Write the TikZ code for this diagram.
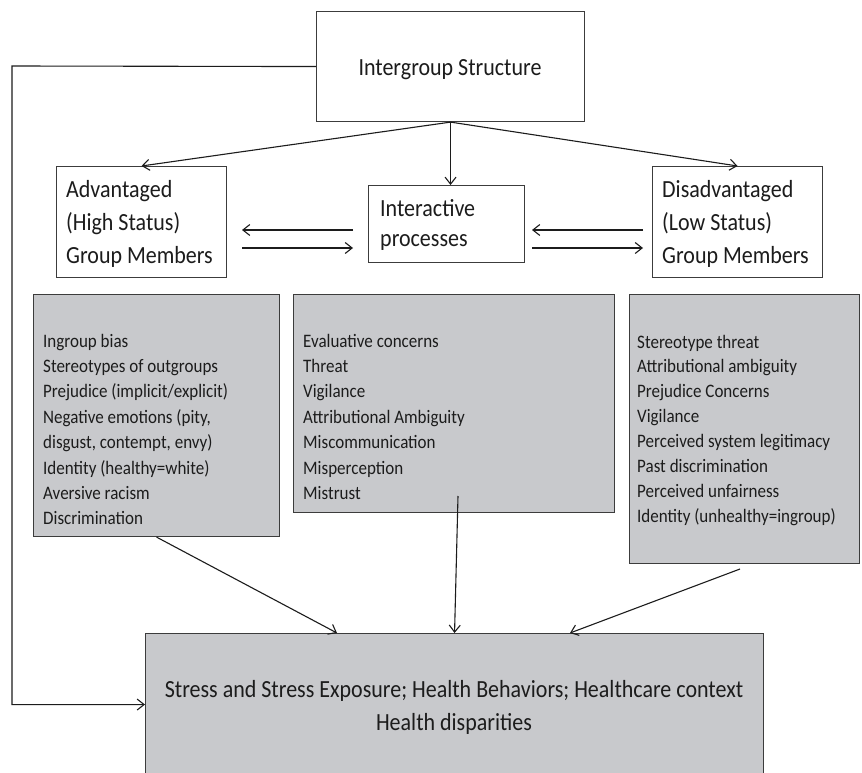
\documentclass[tikz,border=0pt]{standalone}
\usepackage{fontspec}
\setmainfont{Carlito}
\usepackage{graphicx}
\usetikzlibrary{arrows.meta,calc}
\definecolor{boxgray}{RGB}{200,201,204}
\definecolor{ink}{RGB}{28,28,28}
\definecolor{edge}{RGB}{60,60,60}
\newcommand{\vs}[1]{\scalebox{1}[1.12]{#1}}
\begin{document}
\begin{tikzpicture}[x=1pt,y=-1pt,
  wbox/.style={draw=edge, line width=1.1pt, fill=white, inner sep=0pt, anchor=north west},
  gbox/.style={draw=edge, line width=1.1pt, fill=boxgray, inner sep=0pt, anchor=north west},
  bigtext/.style={inner sep=0pt, text=ink, font=\fontsize{22}{26}\selectfont},
  smalltext/.style={inner sep=0pt, text=ink, anchor=base west, font=\fontsize{17}{20}\selectfont},
  arr/.style={draw=ink, line width=1.1pt, -{Straight Barb[length=7pt,width=11pt]}},
  ln/.style={draw=ink, line width=1.1pt}]
\useasboundingbox (0,0) rectangle (862,773);
\fill[white] (0,0) rectangle (862,773);

% boxes
\node[wbox, minimum width=268, minimum height=110] (top) at (316,11) {};
\node[wbox, minimum width=170, minimum height=111] (adv) at (56,166) {};
\node[wbox, minimum width=156, minimum height=77] (inter) at (368,185) {};
\node[wbox, minimum width=170, minimum height=111] (dis) at (652,166) {};
\node[gbox, minimum width=246, minimum height=242] (lg) at (33,294) {};
\node[gbox, minimum width=321, minimum height=218] (mg) at (293,294) {};
\node[gbox, minimum width=230, minimum height=269] (rg) at (629,294) {};
\node[gbox, minimum width=618, minimum height=142] (bot) at (145,633) {};

% texts
\node[bigtext, anchor=base] (toptxt) at (450,76) {\vs{Intergroup Structure}};
\node[bigtext, anchor=base west] (adv1) at (66,197) {\vs{Advantaged}};
\node[bigtext, anchor=base west] (adv2) at (66,230) {\vs{(High Status)}};
\node[bigtext, anchor=base west] (adv3) at (66,263) {\vs{Group Members}};
\node[bigtext, anchor=base west] (int1) at (380,216) {\vs{Interactive}};
\node[bigtext, anchor=base west] (int2) at (380,246) {\vs{processes}};
\node[bigtext, anchor=base west] (dis1) at (662,197) {\vs{Disadvantaged}};
\node[bigtext, anchor=base west] (dis2) at (662,230) {\vs{(Low Status)}};
\node[bigtext, anchor=base west] (dis3) at (662,263) {\vs{Group Members}};
\node[bigtext, anchor=base] (bot1) at (454,697) {\vs{Stress and Stress Exposure; Health Behaviors; Healthcare context}};
\node[bigtext, anchor=base] (bot2) at (454,730) {\vs{Health disparities}};

\foreach \t [count=\i from 0] in {Ingroup bias, Stereotypes of outgroups, Prejudice (implicit/explicit), {Negative emotions (pity,}, {disgust, contempt, envy)}, Identity (healthy=white), Aversive racism, Discrimination}
  \node[smalltext] (lgt\i) at (43,{347+25.4*\i}) {\vs{\t}};
\foreach \t [count=\i from 0] in {Evaluative concerns, Threat, Vigilance, Attributional Ambiguity, Miscommunication, Misperception, Mistrust}
  \node[smalltext] (mgt\i) at (303,{347+25.4*\i}) {\vs{\t}};
\foreach \t [count=\i from 0] in {Stereotype threat, Attributional ambiguity, Prejudice Concerns, Vigilance, Perceived system legitimacy, Past discrimination, Perceived unfairness, Identity (unhealthy=ingroup)}
  \node[smalltext] (rgt\i) at (637,{348+24.9*\i}) {\vs{\t}};

% connectors from top box
\draw[arr] (top.south) -- (adv.north);
\draw[arr] (top.south) -- (top.south |- inter.north);
\draw[arr] (top.south) -- (dis.north);

% horizontal arrow pairs
\coordinate (h1a) at (353,230);
\coordinate (h1b) at (242,230);
\coordinate (h2a) at (242,248);
\coordinate (h2b) at (353,248);
\coordinate (h3a) at (643,230);
\coordinate (h3b) at (532,230);
\coordinate (h4a) at (532,248);
\coordinate (h4b) at (643,248);
\draw[arr] (h1a) -- (h1b);
\draw[arr] (h2a) -- (h2b);
\draw[arr] (h3a) -- (h3b);
\draw[arr] (h4a) -- (h4b);

% feedback loop
\coordinate (fb1) at (12,66);
\draw[arr] (top.west) -- (fb1) -- (fb1 |- bot.west) -- (bot.west);

% gray boxes to bottom box
\coordinate (mgs) at (458,496);
\coordinate (rgs) at (740,569);
\draw[arr] (lg.south) -- (bot.north -| 337,0);
\draw[arr] (mgs) -- (bot.north);
\draw[arr] (rgs) -- (bot.north -| 570,0);
\end{tikzpicture}
\end{document}
